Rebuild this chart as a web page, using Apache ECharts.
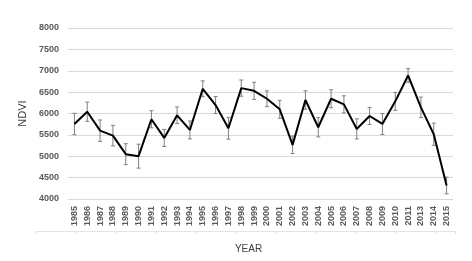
<!DOCTYPE html>
<html>
<head>
<meta charset="utf-8">
<script src="https://cdn.jsdelivr.net/npm/echarts@6/dist/echarts.min.js"></script>
<style>
  html,body{margin:0;padding:0;background:#fff;}
  .main{width:472px;height:261px;}
</style>
</head>
<body>
<div class="main" id="main"></div>
<script>
var years=['1985','1986','1987','1988','1989','1990','1991','1992','1993','1994',
           '1995','1996','1997','1998','1999','2000','2001','2002','2003','2004',
           '2005','2006','2007','2008','2009','2010','2011','2013','2014','2015'];

// mean NDVI per year
var ndvi=[5755,6042,5599,5483,5049,5002,5865,5429,5958,5615,
          6578,6198,5655,6594,6531,6345,6098,5266,6315,5678,
          6345,6214,5639,5942,5755,6284,6890,6144,5515,4317];

// error bar half-widths
var errs=[250,225,250,240,245,280,200,200,195,210,
          185,200,255,190,200,185,210,205,215,225,
          210,200,235,200,245,210,160,240,260,195];

var yTicks=[4000,4500,5000,5500,6000,6500,7000,7500,8000];

var errData=[];
for(var i=0;i<years.length;i++){
  errData.push([i,ndvi[i]-errs[i],ndvi[i]+errs[i]]);
}

var myChart=echarts.init(document.getElementById('main'));

var option={
  animation:false,
  grid:[
    {left:68,right:19,top:28,bottom:62},
    {left:36,right:17,top:231,height:0}
  ],
  xAxis:[{
    type:'category',
    data:years,
    gridIndex:0,
    boundaryGap:true,
    name:'YEAR',
    nameLocation:'middle',
    nameGap:45,
    nameTextStyle:{fontSize:10,color:'#404040',fontFamily:'Liberation Sans',padding:[0,24,0,0]},
    axisLine:{show:true,lineStyle:{color:'#d9d9d9'}},
    axisTick:{show:false},
    axisLabel:{rotate:90,fontSize:9,fontWeight:'bold',color:'#595959',fontFamily:'Liberation Sans',margin:7,interval:0}
  },{
    type:'value',
    gridIndex:1,
    min:0,
    max:10.475,
    interval:1,
    axisLine:{show:true,lineStyle:{color:'#e3e3e3'}},
    axisTick:{show:true,inside:false,length:3,lineStyle:{color:'#e3e3e3'}},
    axisLabel:{show:false},
    splitLine:{show:false}
  }],
  yAxis:[{
    type:'value',
    gridIndex:0,
    min:yTicks[0],
    max:yTicks[yTicks.length-1],
    interval:500,
    name:'NDVI',
    nameLocation:'middle',
    nameGap:26,
    nameTextStyle:{fontSize:11,color:'#404040',fontFamily:'Liberation Sans'},
    axisLine:{show:false},
    axisTick:{show:false},
    axisLabel:{
      fontSize:9,fontWeight:'bold',color:'#595959',fontFamily:'Liberation Sans',margin:9,
      formatter:function(v){return String(v);}
    },
    splitLine:{lineStyle:{color:'#d9d9d9'}}
  },{
    type:'value',
    gridIndex:1,
    show:false
  }],
  series:[{
    name:'NDVI',
    type:'line',
    data:ndvi,
    symbol:'none',
    lineStyle:{color:'#000',width:2},
    z:3
  },{
    name:'err',
    type:'custom',
    data:errData,
    z:2,
    renderItem:function(params,api){
      var x=api.value(0);
      var lo=api.coord([x,api.value(1)]);
      var hi=api.coord([x,api.value(2)]);
      var w=2;
      var st={stroke:'#808080',lineWidth:1};
      return {type:'group',children:[
        {type:'line',shape:{x1:hi[0],y1:hi[1],x2:lo[0],y2:lo[1]},style:st},
        {type:'line',shape:{x1:hi[0]-w,y1:hi[1],x2:hi[0]+w,y2:hi[1]},style:st},
        {type:'line',shape:{x1:lo[0]-w,y1:lo[1],x2:lo[0]+w,y2:lo[1]},style:st}
      ]};
    }
  }]
};

myChart.setOption(option);
</script>
</body>
</html>
